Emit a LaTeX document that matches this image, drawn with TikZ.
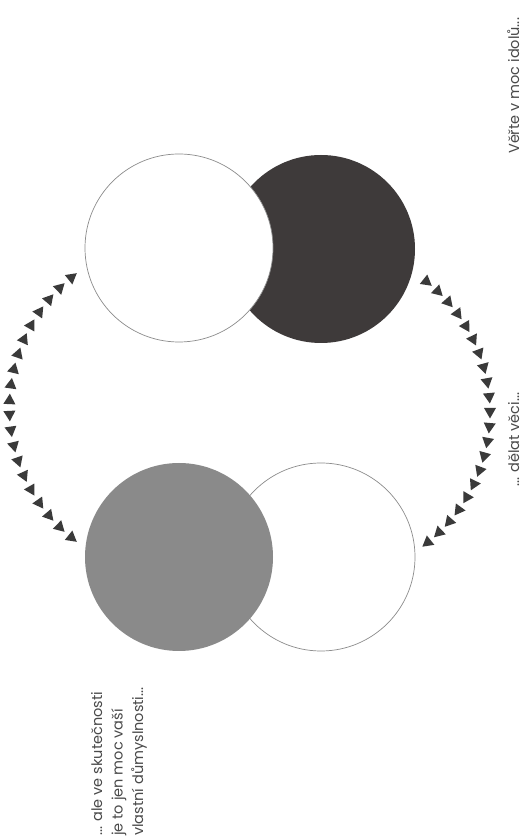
\documentclass[tikz,border=0pt]{standalone}
\usepackage{fontspec}
\setmainfont{Poppins}
\definecolor{darkc}{HTML}{3E3A3A}
\definecolor{grayc}{HTML}{8A8A8A}
\definecolor{linec}{HTML}{8C8C8C}
\definecolor{tric}{HTML}{3A3A3A}
\definecolor{txt}{HTML}{4A4A4A}
\begin{document}
\begin{tikzpicture}[x=1pt,y=1pt,
  disc/.style={circle, minimum size=188pt, inner sep=0pt, outer sep=0pt},
  ring/.style={disc, fill=white, draw=linec, line width=0.7pt},
  lbl/.style={rotate=90, anchor=base west, inner sep=0pt, text=txt, font=\fontsize{14.5}{20}\selectfont}]
\useasboundingbox (0,0) rectangle (525,839);
\fill[white] (0,0) rectangle (525,839);
% top pair
\node[disc, fill=darkc] (dark) at (321,590) {};
\node[ring] (topw) at (179,591) {};
% bottom pair
\node[ring] (botw) at (321,282) {};
\node[disc, fill=grayc] (gray) at (179,282) {};
% right arc: from dark circle down to bottom white circle
\foreach \i in {0,...,20}{
  \pgfmathsetmacro\a{51.5-\i*5.15}
  \fill[tric, shift={({323.3+166.7*cos(\a)},{426.5+166.7*sin(\a)})}, rotate=\a-90]
    (6,0) -- (-4.5,6) -- (-4.5,-6) -- cycle;
}
% left arc: double-headed
\foreach \i in {0,...,9}{
  \pgfmathsetmacro\a{128.7+\i*5.4}
  \fill[tric, shift={({176.7+167.3*cos(\a)},{431.5+167.3*sin(\a)})}, rotate=\a-90]
    (6,0) -- (-4.5,6) -- (-4.5,-6) -- cycle;
}
\foreach \i in {0,...,9}{
  \pgfmathsetmacro\a{231.3-\i*5.4}
  \fill[tric, shift={({176.7+167.3*cos(\a)},{431.5+167.3*sin(\a)})}, rotate=\a+90]
    (6,0) -- (-4.5,6) -- (-4.5,-6) -- cycle;
}
% texts
\node[lbl] (t1) at (519,685) {Věřte v moc idolů...};
\node[lbl] (t2) at (519,352) {... dělat věci...};
\node[lbl] (t3) at (102,3) {... ale ve skutečnosti};
\node[lbl] (t4) at (122.5,3) {je to jen moc vaší};
\node[lbl] (t5) at (143,3) {vlastní důmyslnosti...};
\end{tikzpicture}
\end{document}
